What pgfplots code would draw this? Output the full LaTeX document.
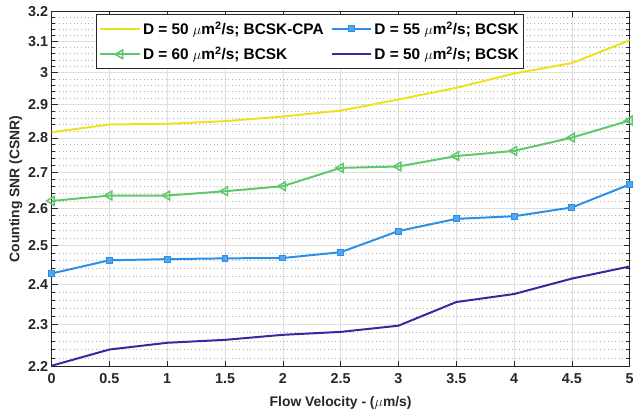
\documentclass[border=0pt]{standalone}
\usepackage{fontspec}
\setmainfont{Liberation Sans}
\usepackage{pgfplots}
\pgfplotsset{compat=1.18}

\definecolor{cpa}{RGB}{240,225,30}
\definecolor{dsixty}{RGB}{96,200,108}
\definecolor{dfiftyfive}{RGB}{42,143,232}
\definecolor{dfifty}{RGB}{58,38,160}
\definecolor{axisgray}{RGB}{38,38,38}

\begin{document}
\begin{tikzpicture}
\begin{axis}[
    scale only axis,
    width=581bp, height=357bp,
    xmin=0, xmax=5,
    ymin=2.2, ymax=3.2,
    ymode=log,
    xtick={0,0.5,1,1.5,2,2.5,3,3.5,4,4.5,5},
    xticklabels={0,0.5,1,1.5,2,2.5,3,3.5,4,4.5,5},
    ytick={2.2,2.3,2.4,2.5,2.6,2.7,2.8,2.9,3.0,3.1,3.2},
    yticklabels={2.2,2.3,2.4,2.5,2.6,2.7,2.8,2.9,3,3.1,3.2},
    minor ytick={2.22,2.24,2.26,2.28,2.32,2.34,2.36,2.38,2.42,2.44,2.46,2.48,
                 2.52,2.54,2.56,2.58,2.62,2.64,2.66,2.68,2.72,2.74,2.76,2.78,
                 2.82,2.84,2.86,2.88,2.92,2.94,2.96,2.98,3.02,3.04,3.06,3.08,
                 3.12,3.14,3.16,3.18},
    grid=both,
    major grid style={color=black!13, line width=0.6bp},
    minor grid style={color=black!30, line width=0.6bp, dash pattern=on 0.7bp off 3bp},
    axis line style={color=axisgray, line width=0.7bp},
    tick style={color=axisgray, line width=0.6bp},
    major tick length=6bp, minor tick length=3.5bp,
    tick align=inside,
    ticklabel style={font=\fontsize{14.5}{16}\selectfont\bfseries, color=axisgray},
    xticklabel style={yshift=-3bp},
    label style={font=\fontsize{14}{16}\selectfont\bfseries, color=axisgray},
    xlabel style={yshift=-6bp},
    ylabel style={yshift=-1bp},
    xlabel={Flow Velocity - ($\mu$m/s)},
    ylabel={Counting SNR (CSNR)},
    clip mode=individual,
    legend columns=2,
    legend cell align=left,
    legend style={at={(0.0768,0.9916)}, anchor=north west,
        draw=axisgray, line width=0.6bp, fill=white,
        inner xsep=3bp, inner ysep=5bp, row sep=7.5bp,
        font=\fontsize{15.5}{17}\selectfont\bfseries,
        /tikz/every even column/.append style={column sep=5bp}},
    legend image code/.code={\draw[mark repeat=2,mark phase=2,#1]
        plot coordinates {(0bp,0bp) (20bp,0bp) (40bp,0bp)};},
]
\addplot[color=cpa, line width=2bp] coordinates {
 (0,2.817) (0.5,2.840) (1,2.842) (1.5,2.850) (2,2.864) (2.5,2.882)
 (3,2.916) (3.5,2.952) (4,2.997) (4.5,3.030) (5,3.104) };
\addlegendentry{D = 50 $\mu$m\textsuperscript{2}/s; BCSK-CPA}
\addplot[color=dfiftyfive, line width=2bp, mark=square*,
    mark size=3bp, mark options={fill=dfiftyfive!80!white, line width=1bp}] coordinates {
 (0,2.427) (0.5,2.461) (1,2.464) (1.5,2.466) (2,2.467) (2.5,2.482)
 (3,2.538) (3.5,2.571) (4,2.578) (4.5,2.602) (5,2.666) };
\addlegendentry{D = 55 $\mu$m\textsuperscript{2}/s; BCSK}
\addplot[color=dsixty, line width=2bp, mark=triangle,
    mark size=5bp, mark options={rotate=90, line width=1.5bp}] coordinates {
 (0,2.620) (0.5,2.635) (1,2.635) (1.5,2.647) (2,2.661) (2.5,2.713)
 (3,2.717) (3.5,2.747) (4,2.762) (4.5,2.801) (5,2.852) };
\addlegendentry{D = 60 $\mu$m\textsuperscript{2}/s; BCSK}
\addplot[color=dfifty, line width=2bp] coordinates {
 (0,2.202) (0.5,2.240) (1,2.256) (1.5,2.263) (2,2.275) (2.5,2.282)
 (3,2.297) (3.5,2.355) (4,2.375) (4.5,2.414) (5,2.445) };
\addlegendentry{D = 50 $\mu$m\textsuperscript{2}/s; BCSK}
\end{axis}
\path ([xshift=-6bp,yshift=3bp]current bounding box.north west) rectangle (current bounding box.south east);
\end{tikzpicture}
\end{document}
